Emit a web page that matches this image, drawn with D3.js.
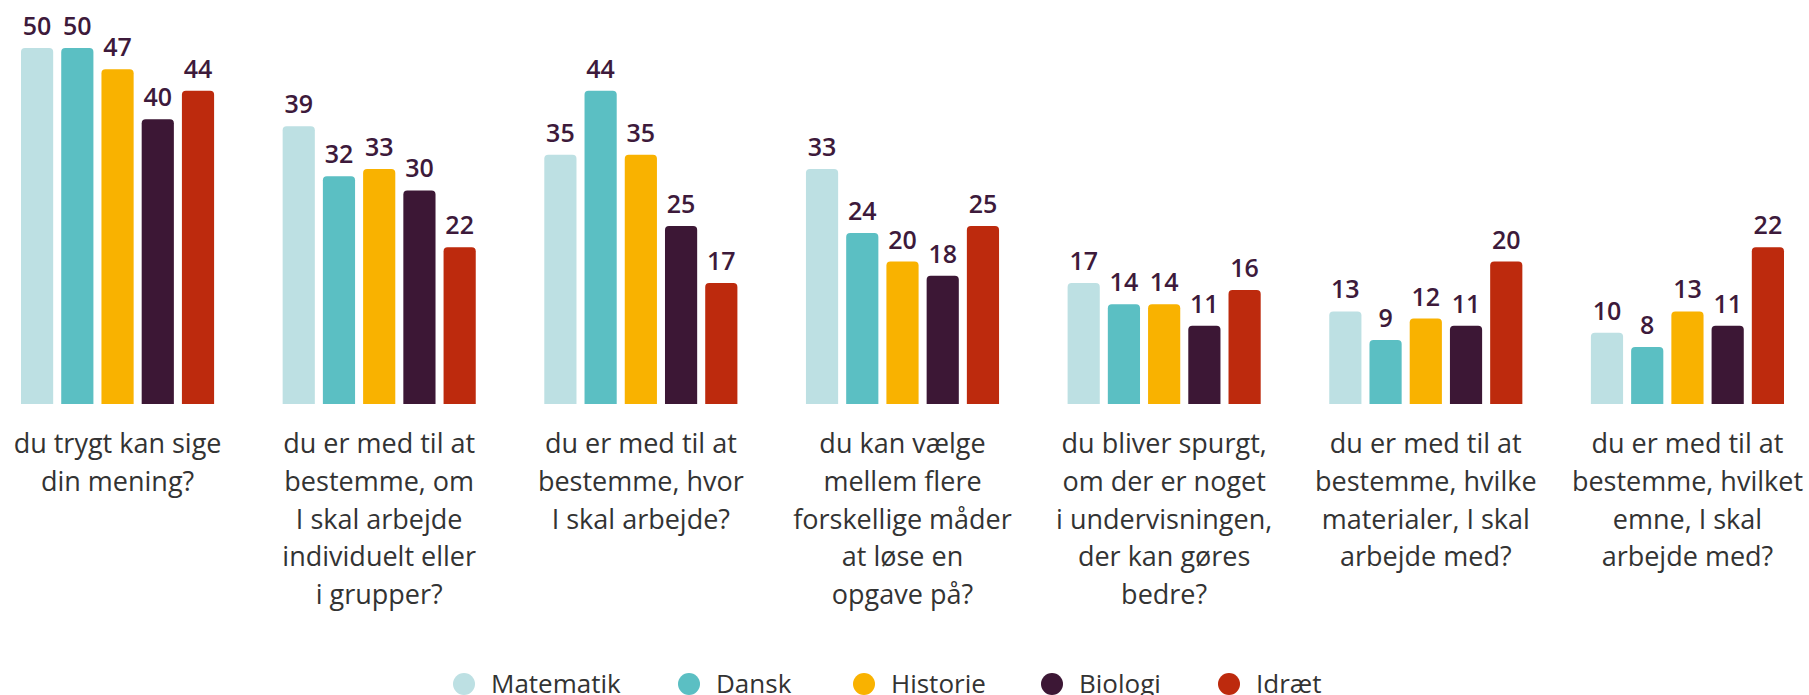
<!DOCTYPE html>
<html>
<head>
<meta charset="utf-8">
<script src="https://cdn.jsdelivr.net/npm/d3@7"></script>
<style>
  body { margin: 0; background: #fff; }
  svg { display: block; font-family: "Open Sans", sans-serif; }
</style>
</head>
<body>
<div id="chart-area"></div>
<script>
var questions = [
  ["du trygt kan sige", "din mening?"],
  ["du er med til at", "bestemme, om", "I skal arbejde", "individuelt eller", "i grupper?"],
  ["du er med til at", "bestemme, hvor", "I skal arbejde?"],
  ["du kan vælge", "mellem flere", "forskellige måder", "at løse en", "opgave på?"],
  ["du bliver spurgt,", "om der er noget", "i undervisningen,", "der kan gøres", "bedre?"],
  ["du er med til at", "bestemme, hvilke", "materialer, I skal", "arbejde med?"],
  ["du er med til at", "bestemme, hvilket", "emne, I skal", "arbejde med?"]
];

var subjects = ["Matematik", "Dansk", "Historie", "Biologi", "Idræt"];
var colors = ["#bde0e3", "#5bbfc3", "#f9b200", "#3c1735", "#bd2a0d"];

var matematik = [50, 39, 35, 33, 17, 13, 10];
var dansk = [50, 32, 44, 24, 14, 9, 8];
var historie = [47, 33, 35, 20, 14, 12, 13];
var biologi = [40, 30, 25, 18, 11, 11, 11];
var idraet = [44, 22, 17, 25, 16, 20, 22];

var series = [matematik, dansk, historie, biologi, idraet];

var width = 1809, height = 695;

var svg = d3.select("#chart-area")
  .append("svg")
  .attr("width", width)
  .attr("height", height);

var groupIdx = d3.range(questions.length);

var x0 = d3.scaleBand()
  .domain(groupIdx)
  .range([21, 1784])
  .paddingInner(0.262)
  .paddingOuter(0);

var x1 = d3.scaleBand()
  .domain(subjects)
  .range([0, x0.bandwidth()])
  .paddingInner(0.2);

var y = d3.scaleLinear()
  .domain([0, 50])
  .range([404, 48]);

var color = d3.scaleOrdinal()
  .domain(subjects)
  .range(colors);

// flatten for drawing
var cells = [];
groupIdx.forEach(function (g) {
  subjects.forEach(function (s, i) {
    cells.push({ group: g, subject: s, value: series[i][g] });
  });
});

function topRounded(x, yTop, w, yBot, r) {
  return "M" + x + "," + yBot +
    "V" + (yTop + r) +
    "Q" + x + "," + yTop + " " + (x + r) + "," + yTop +
    "H" + (x + w - r) +
    "Q" + (x + w) + "," + yTop + " " + (x + w) + "," + (yTop + r) +
    "V" + yBot + "Z";
}

svg.selectAll("path.bar")
  .data(cells)
  .enter()
  .append("path")
  .attr("class", "bar")
  .attr("d", function (d) {
    return topRounded(x0(d.group) + x1(d.subject), y(d.value), x1.bandwidth(), y(0), 4);
  })
  .attr("fill", function (d) { return color(d.subject); });

svg.selectAll("text.val")
  .data(cells)
  .enter()
  .append("text")
  .attr("class", "val")
  .attr("x", function (d) { return x0(d.group) + x1(d.subject) + x1.bandwidth() / 2; })
  .attr("y", function (d) { return y(d.value) - 13; })
  .attr("text-anchor", "middle")
  .attr("font-size", 25)
  .attr("font-weight", 600)
  .attr("fill", "#3d1a3b")
  .text(function (d) { return d.value; });

// question labels
var qlab = svg.selectAll("text.q")
  .data(questions)
  .enter()
  .append("text")
  .attr("class", "q")
  .attr("text-anchor", "middle")
  .attr("font-size", 27)
  .attr("fill", "#333");

qlab.selectAll("tspan")
  .data(function (d, i) { return d.map(function (line) { return { line: line, g: i }; }); })
  .enter()
  .append("tspan")
  .attr("x", function (d) { return x0(d.g) + x0.bandwidth() / 2; })
  .attr("y", function (d, j) { return 453 + j * 37.75; })
  .text(function (d) { return d.line; });

// legend
var legendX = [464, 689, 864, 1052, 1229];
var legend = svg.selectAll("g.legend")
  .data(subjects)
  .enter()
  .append("g")
  .attr("class", "legend")
  .attr("transform", function (d, i) { return "translate(" + legendX[i] + ",0)"; });

legend.append("circle")
  .attr("cx", 0)
  .attr("cy", 684)
  .attr("r", 11)
  .attr("fill", function (d) { return color(d); });

legend.append("text")
  .attr("x", 27)
  .attr("y", 693)
  .attr("font-size", 26)
  .attr("fill", "#333")
  .text(function (d) { return d; });
</script>
</body>
</html>
